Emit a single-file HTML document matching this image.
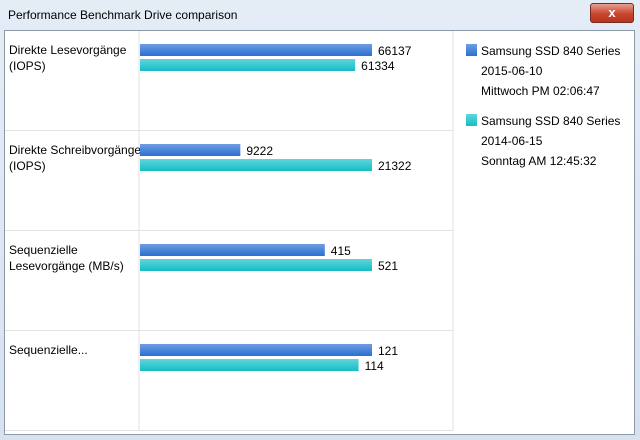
<!DOCTYPE html>
<html><head><meta charset="utf-8"><style>
body{margin:0;width:640px;height:440px;overflow:hidden;background:#dce6f0;font-family:"Liberation Sans",sans-serif;}
#win{position:absolute;left:0;top:0;width:640px;height:440px;background:linear-gradient(#e4edf6,#d6e2ee);}
#title{position:absolute;left:8px;top:8px;font-size:12px;color:#000;}
#close{position:absolute;left:590px;top:3px;width:42px;height:18px;border-radius:3px;background:linear-gradient(#e8a090,#c8442c 55%,#b53520);border:1px solid #7a2a20;color:#fff;font-size:13px;font-weight:bold;text-align:center;line-height:18px;}
#panel{position:absolute;left:4px;top:30px;width:629px;height:403px;background:#fff;border:1px solid #8a9aa8;}
svg{position:absolute;left:0;top:0}
</style></head><body>
<div id="win">
<div id="title">Performance Benchmark Drive comparison</div>
<div id="close">x</div>
<div id="panel"></div>
<svg id="chart" width="640" height="440">
<defs>
<linearGradient id="gb" x1="0" y1="0" x2="0" y2="1"><stop offset="0" stop-color="#6e9ee2"/><stop offset="1" stop-color="#2a6fd2"/></linearGradient>
<linearGradient id="gc" x1="0" y1="0" x2="0" y2="1"><stop offset="0" stop-color="#5fd6dc"/><stop offset="1" stop-color="#16bcc6"/></linearGradient>
</defs>
</svg>
</div>
<script>
const categories=[["Direkte Lesevorgänge","(IOPS)"],["Direkte Schreibvorgänge","(IOPS)"],["Sequenzielle","Lesevorgänge (MB/s)"],["Sequenzielle..."]];
const series1=[66137,9222,415,121];
const series2=[61334,21322,521,114];
const legendNames=["Samsung SSD 840 Series","Samsung SSD 840 Series"];
const legendDates=["2015-06-10","2014-06-15"];
const legendTimes=["Mittwoch PM 02:06:47","Sonntag AM 12:45:32"];
const svg=document.getElementById('chart');
const NS='http://www.w3.org/2000/svg';
function mk(t,a){const e=document.createElementNS(NS,t);for(const k in a)e.setAttribute(k,a[k]);svg.appendChild(e);return e;}
const x0=140,maxW=232,rowTop=31,rowH=100;
function xs(v,m){return v/m*maxW;}
function ry(i){return rowTop+i*rowH;}
// grid
let g=mk('line',{x1:139,y1:31,x2:139,y2:431,stroke:'#e2e2e2'});

g=mk('line',{x1:453,y1:31,x2:453,y2:431,stroke:'#e2e2e2'});

for(let i=1;i<=4;i++){const l=mk('line',{x1:5,y1:ry(i)-1+0.5,x2:453,y2:ry(i)-1+0.5,stroke:'#e2e2e2'});

}
categories.forEach((c,i)=>{
 const m=Math.max(series1[i],series2[i]);const y=ry(i);
 c.forEach((s,j)=>{const t=mk('text',{x:9,y:y+23+j*16,'font-size':12,fill:'#000'});t.textContent=s;
 
 });
 const w1=xs(series1[i],m),w2=xs(series2[i],m);
 const b1=mk('rect',{x:x0,y:y+13,width:w1,height:12,fill:'url(#gb)'});
 
 
 const b2=mk('rect',{x:x0,y:y+28,width:w2,height:12,fill:'url(#gc)'});
 
 
 const t1=mk('text',{x:x0+w1+6,y:y+24,'font-size':12,fill:'#000'});t1.textContent=series1[i];
 
 
 const t2=mk('text',{x:x0+w2+6,y:y+39,'font-size':12,fill:'#000'});t2.textContent=series2[i];
 
 
});
legendNames.forEach((n,i)=>{
 const y=44+i*70;
 const r=mk('rect',{x:466,y:y,width:11,height:12,fill:i?'url(#gc)':'url(#gb)'});
 
 
 [n,legendDates[i],legendTimes[i]].forEach((s,j)=>{const t=mk('text',{x:481,y:y+11+j*20,'font-size':12,fill:'#000'});t.textContent=s;
 
 });
});
</script>
</body></html>
